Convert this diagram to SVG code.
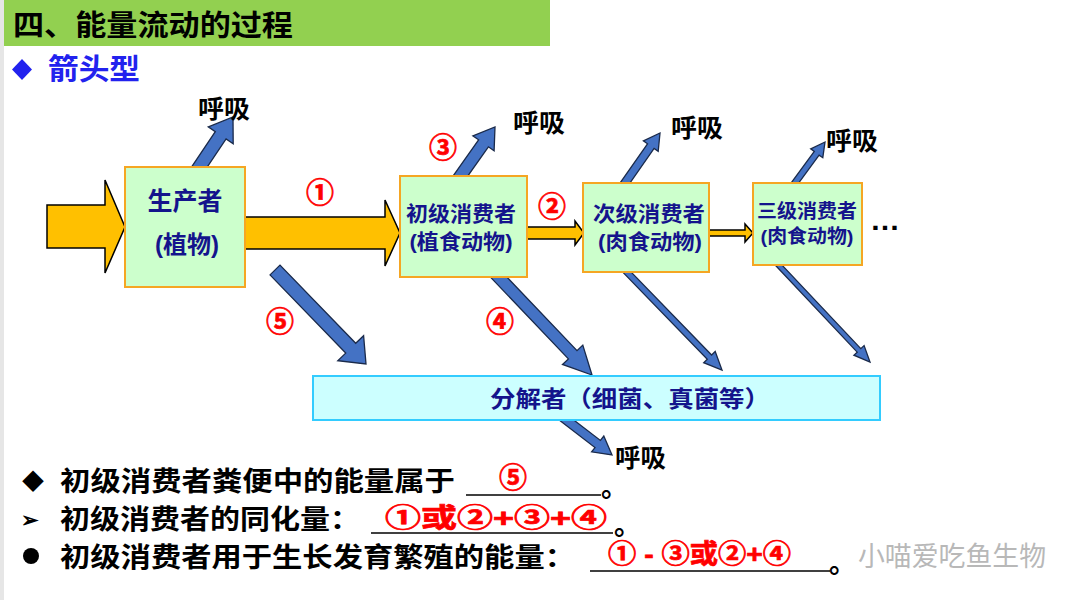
<svg xmlns="http://www.w3.org/2000/svg" width="1080" height="600" viewBox="0 0 1080 600">
<style>
.t{font-family:"Liberation Sans","Noto Sans CJK SC",sans-serif;font-weight:bold}
.nv{fill:#14148c}
.blk{fill:#000}
.red{fill:#ff0000;stroke:#ff0000;stroke-width:0.7}
.box{fill:#ccffcc;stroke:#f5a623;stroke-width:2}
.yel{fill:#ffc000;stroke:#000;stroke-width:1.5;stroke-linejoin:miter}
.blu{fill:#4472c4;stroke:#1a2a4a;stroke-width:1.3;stroke-linejoin:miter}
.ul{stroke:#000;stroke-width:1.5}
</style>
<rect x="0" y="0" width="1080" height="600" fill="#ffffff"/>
<rect x="0" y="0" width="4" height="600" fill="#e6e6e6"/>
<g id="header">
<rect x="4" y="0" width="546" height="46" fill="#92d050"/>
<text class="t blk" x="13" y="36" font-size="29" textLength="280" lengthAdjust="spacingAndGlyphs">四、能量流动的过程</text>
</g>
<g id="subtitle">
<polygon points="22,59 32,69.5 22,80 12,69.5" fill="#2222ee"/>
<text class="t" x="48" y="80" font-size="29" fill="#2222ee" textLength="92" lengthAdjust="spacingAndGlyphs">箭头型</text>
</g>
<g id="connectors">
<polygon class="yel" points="47,205 105,205 105,180 125,227 105,273 105,248 47,248"/>
<polygon class="yel" points="245,217 385,217 385,200 400,233 385,266 385,249 245,249"/>
<polygon class="yel" points="527,227 575,227 575,221 584,233 575,245 575,239 527,239"/>
<polygon class="yel" points="709,230 745,230 745,224 753,233 745,242 745,236 709,236"/>
<polygon class="blu" points="197.4,181.6 226.1,138.9 233.2,143.7 233,117 208.3,126.9 215.3,131.6 186.6,174.4"/>
<polygon class="blu" points="458.9,188.5 488.4,146.8 494.1,150.8 495,127 472.9,135.8 478.6,139.8 449.1,181.5"/>
<polygon class="blu" points="621.3,195.3 654.1,148.4 658.2,151.3 660,133 643.4,140.9 647.5,143.8 614.7,190.7"/>
<polygon class="blu" points="791.4,192.8 819.1,155.1 822.8,157.7 825,142 810.7,148.9 814.3,151.5 786.6,189.2"/>
<polygon class="blu" points="270,274.9 345.7,353.1 337.8,360.7 366,364 363.6,335.7 355.7,343.3 280,265.1"/>
<polygon class="blu" points="485.7,272.1 568.4,358.9 562.5,364.4 592,375 582.8,345.1 577,350.6 494.3,263.9"/>
<polygon class="blu" points="617.9,267.1 707.3,359.2 703.7,362.7 722,370 715.2,351.5 711.6,355 622.2,262.9"/>
<polygon class="blu" points="770.2,259.7 857.2,352.1 853.9,355.2 870,362 864.1,345.6 860.8,348.7 773.8,256.3"/>
<polygon class="blu" points="553.3,415.6 595,447.6 591.6,451.9 612,455 603.8,436.1 600.4,440.4 558.7,408.4"/>
</g>
<g id="producer">
<rect class="box" x="125" y="167" width="120" height="120"/>
<text class="t nv" x="185" y="210" font-size="25" text-anchor="middle">生产者</text>
<text class="t nv" x="187" y="253" font-size="24" text-anchor="middle">(植物)</text>
</g>
<g id="primary">
<rect class="box" x="400" y="176" width="127" height="101"/>
<text class="t nv" x="461" y="221" font-size="21" text-anchor="middle" textLength="110" lengthAdjust="spacingAndGlyphs">初级消费者</text>
<text class="t nv" x="461" y="249" font-size="21" text-anchor="middle" textLength="103" lengthAdjust="spacingAndGlyphs">(植食动物)</text>
</g>
<g id="secondary">
<rect class="box" x="583" y="183" width="126" height="89"/>
<text class="t nv" x="649" y="221" font-size="21" text-anchor="middle" textLength="112" lengthAdjust="spacingAndGlyphs">次级消费者</text>
<text class="t nv" x="650" y="249" font-size="21" text-anchor="middle" textLength="104" lengthAdjust="spacingAndGlyphs">(肉食动物)</text>
</g>
<g id="tertiary">
<rect class="box" x="753" y="183" width="109" height="82"/>
<text class="t nv" x="807" y="218" font-size="19" text-anchor="middle" textLength="100" lengthAdjust="spacingAndGlyphs">三级消费者</text>
<text class="t nv" x="807" y="243" font-size="19" text-anchor="middle" textLength="93" lengthAdjust="spacingAndGlyphs">(肉食动物)</text>
</g>
<g id="ellipsis">
<text class="t blk" x="870" y="230" font-size="28" textLength="30" lengthAdjust="spacingAndGlyphs">…</text>
</g>
<g id="decomposer">
<rect x="313" y="376" width="567" height="44" fill="#ccffff" stroke="#33ccff" stroke-width="2"/>
<text class="t nv" x="630" y="407" font-size="23" text-anchor="middle" textLength="280" lengthAdjust="spacingAndGlyphs">分解者（细菌、真菌等）</text>
</g>
<g id="respiration-labels">
<text class="t blk" x="198" y="118" font-size="25" textLength="52" lengthAdjust="spacingAndGlyphs">呼吸</text>
<text class="t blk" x="513" y="132" font-size="25" textLength="52" lengthAdjust="spacingAndGlyphs">呼吸</text>
<text class="t blk" x="671" y="137" font-size="25" textLength="52" lengthAdjust="spacingAndGlyphs">呼吸</text>
<text class="t blk" x="826" y="150" font-size="25" textLength="52" lengthAdjust="spacingAndGlyphs">呼吸</text>
<text class="t blk" x="615" y="467" font-size="25" textLength="51" lengthAdjust="spacingAndGlyphs">呼吸</text>
</g>
<g id="flow-labels">
<text class="t red" x="320" y="203" font-size="28" text-anchor="middle">①</text>
<text class="t red" x="443" y="158" font-size="28" text-anchor="middle">③</text>
<text class="t red" x="552" y="217" font-size="28" text-anchor="middle">②</text>
<text class="t red" x="280" y="332" font-size="28" text-anchor="middle">⑤</text>
<text class="t red" x="500" y="332" font-size="28" text-anchor="middle">④</text>
</g>
<g id="questions">
<text class="t blk" x="22" y="489" font-size="22">◆</text>
<text class="t blk" x="60" y="491" font-size="27" textLength="395" lengthAdjust="spacingAndGlyphs">初级消费者粪便中的能量属于</text>
<line class="ul" x1="466" y1="495" x2="601" y2="495"/>
<text class="t blk" x="601" y="497" font-size="27">。</text>
<text class="t red" x="513" y="488" font-size="28" text-anchor="middle">⑤</text>

<text class="t blk" x="21" y="527" font-size="21">➢</text>
<text class="t blk" x="60" y="529" font-size="27" textLength="300" lengthAdjust="spacingAndGlyphs">初级消费者的同化量：</text>
<line class="ul" x1="371" y1="533" x2="613" y2="533"/>
<text class="t blk" x="614" y="535" font-size="27">。</text>
<text class="t red" x="385" y="527" font-size="26" textLength="222" lengthAdjust="spacingAndGlyphs">①或②+③+④</text>

<circle cx="31" cy="556" r="8" fill="#000"/>
<text class="t blk" x="60" y="567" font-size="27" textLength="515" lengthAdjust="spacingAndGlyphs">初级消费者用于生长发育繁殖的能量：</text>
<line class="ul" x1="590" y1="571" x2="830" y2="571"/>
<text class="t blk" x="829" y="573" font-size="27">。</text>
<text class="t red" x="608" y="563" font-size="26" textLength="183" lengthAdjust="spacingAndGlyphs">① - ③或②+④</text>
</g>
<g id="watermark" opacity="0.6">
<text x="858" y="566" font-size="27" textLength="188" lengthAdjust="spacingAndGlyphs" fill="#8a8a8a" font-family="'Noto Sans CJK SC',sans-serif">小喵爱吃鱼生物</text>
</g>
</svg>
